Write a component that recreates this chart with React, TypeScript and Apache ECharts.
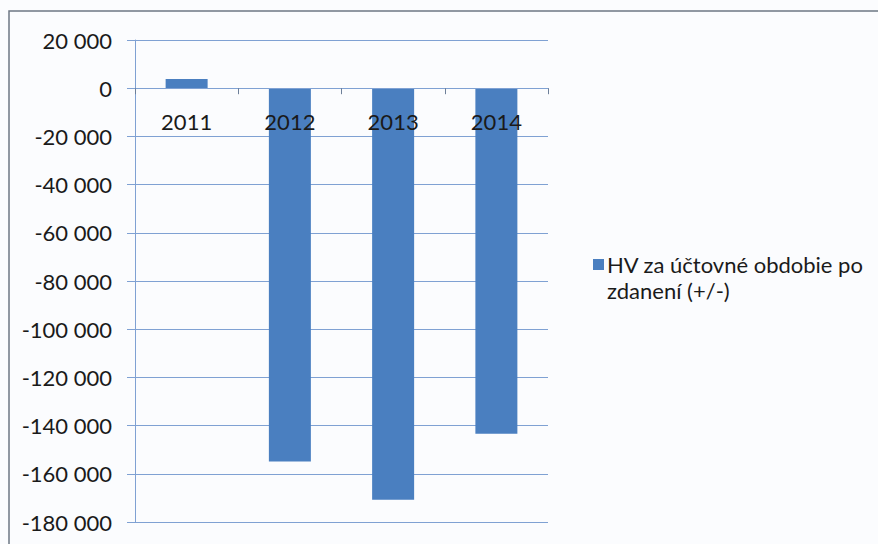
import React, { useEffect, useRef } from "react";
import * as echarts from "echarts";

const categories = ["2011", "2012", "2013", "2014"];
const values = [3800, -154900, -170800, -143400];
const seriesName = "HV za účtovné obdobie po zdanení (+/-)";
const legendLines = ["HV za účtovné obdobie po", "zdanení (+/-)"];
const yMin = -180000;
const yMax = 20000;
const yStep = 20000;

const FONT = "Lato";
const FS = 22;
const BAR_COLOR = "#4a7fc0";

function fmt(v: number): string {
  const s = Math.abs(v).toString().replace(/\B(?=(\d{3})+(?!\d))/g, " ");
  return (v < 0 ? "-" : "") + s;
}

export default function App() {
  const ref = useRef<HTMLDivElement>(null);
  useEffect(() => {
    if (!ref.current) return;
    const chart = echarts.init(ref.current, undefined, { renderer: "svg" });
    const lineColor = "#7fa1d3";
    const gridTop = 40;
    const gridBottom = 22;
    const plotH = 544 - gridTop - gridBottom;
    const zeroOffset = (plotH * yMax) / (yMax - yMin);
    chart.setOption({
      animation: false,
      backgroundColor: "#fbfcfe",
      textStyle: { fontFamily: FONT },
      grid: {
        left: 135,
        right: 330,
        top: gridTop,
        bottom: gridBottom,
        containLabel: false,
        outerBoundsMode: "none",
      },
      legend: { show: false },
      xAxis: {
        type: "category",
        data: categories,
        position: "top",
        offset: -zeroOffset,
        z: 5,
        axisLine: { show: true, onZero: false, lineStyle: { color: lineColor, width: 1 } },
        axisTick: {
          show: true,
          inside: true,
          length: 6,
          interval: 0,
          lineStyle: { color: "#6d7f99" },
        },
        axisLabel: {
          inside: true,
          fontFamily: FONT,
          fontSize: FS,
          color: "#1a1a1a",
          margin: 22,
          interval: 0,
        },
        splitLine: { show: false },
      },
      yAxis: {
        type: "value",
        min: yMin,
        max: yMax,
        interval: yStep,
        axisLine: { show: true, onZero: false, lineStyle: { color: lineColor, width: 1 } },
        axisTick: { show: true, length: 8, lineStyle: { color: lineColor } },
        axisLabel: {
          fontFamily: FONT,
          fontSize: FS,
          color: "#1a1a1a",
          margin: 23,
          formatter: (v: number) => fmt(v),
        },
        splitLine: { show: true, lineStyle: { color: lineColor, width: 1 } },
      },
      graphic: [
        {
          type: "rect",
          shape: { x: 9, y: 11, width: 1000, height: 700 },
          style: { fill: "none", stroke: "#6e7784", lineWidth: 1.5 },
          silent: true,
          z: 100,
        },
        {
          type: "rect",
          shape: { x: 593, y: 259, width: 11, height: 11 },
          style: { fill: BAR_COLOR },
          silent: true,
        },
        {
          type: "text",
          x: 607,
          y: 264,
          style: {
            text: legendLines[0],
            font: `${FS}px ${FONT}`,
            fill: "#1a1a1a",
            verticalAlign: "middle",
          },
          silent: true,
        },
        {
          type: "text",
          x: 607,
          y: 290,
          style: {
            text: legendLines[1],
            font: `${FS}px ${FONT}`,
            fill: "#1a1a1a",
            verticalAlign: "middle",
          },
          silent: true,
        },
      ],
      series: [
        {
          name: seriesName,
          type: "bar",
          data: values,
          barWidth: 42,
          itemStyle: { color: BAR_COLOR },
        },
      ],
    });
    return () => chart.dispose();
  }, []);
  return (
    <div
      ref={ref}
      style={{ position: "fixed", left: 0, top: 0, width: 878, height: 544 }}
    />
  );
}
